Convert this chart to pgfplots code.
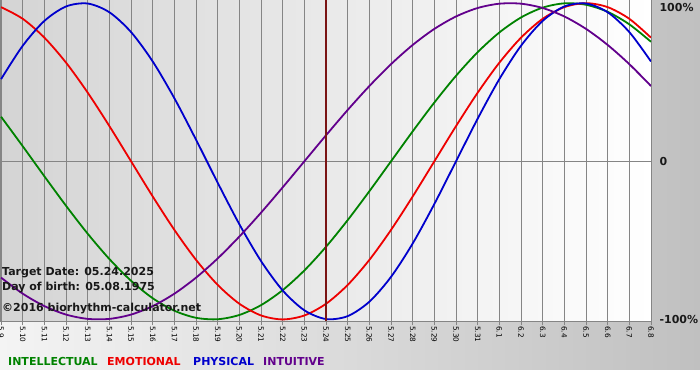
\documentclass[border=0pt]{standalone}
\usepackage{pgfplots}
\pgfplotsset{compat=1.18}
\usepackage{pgfplotstable}
\usepackage{fontspec}
\setmainfont{DejaVu Sans}
\definecolor{cint}{HTML}{008200}
\definecolor{cemo}{HTML}{EE0000}
\definecolor{cphy}{HTML}{0000CC}
\definecolor{cintu}{HTML}{62008C}
\definecolor{ctarget}{HTML}{7A1414}
\definecolor{cgrid}{HTML}{858585}
\definecolor{plotL}{HTML}{D4D4D4}
\definecolor{outL}{HTML}{F4F4F4}
\definecolor{outR}{HTML}{C0C0C0}
\pgfplotstableread{
i int emo phy intu
0 0.2817 0.9749 0.5196 -0.7357
1 0.0951 0.9010 0.7308 -0.8372
2 -0.0951 0.7818 0.8879 -0.9158
3 -0.2817 0.6235 0.9791 -0.9694
4 -0.4582 0.4339 0.9977 -0.9966
5 -0.6182 0.2225 0.9423 -0.9966
6 -0.7557 0 0.8170 -0.9694
7 -0.8660 -0.2225 0.6311 -0.9158
8 -0.9450 -0.4339 0.3984 -0.8372
9 -0.9898 -0.6235 0.1362 -0.7357
10 -0.9989 -0.7818 -0.1362 -0.6142
11 -0.9718 -0.9010 -0.3984 -0.4759
12 -0.9096 -0.9749 -0.6311 -0.3247
13 -0.8146 -1 -0.8170 -0.1646
14 -0.6901 -0.9749 -0.9423 0
15 -0.5406 -0.9010 -0.9977 0.1646
16 -0.3717 -0.7818 -0.9791 0.3247
17 -0.1893 -0.6235 -0.8879 0.4759
18 0 -0.4339 -0.7308 0.6142
19 0.1893 -0.2225 -0.5196 0.7357
20 0.3717 0 -0.2698 0.8372
21 0.5406 0.2225 0 0.9158
22 0.6901 0.4339 0.2698 0.9694
23 0.8146 0.6235 0.5196 0.9966
24 0.9096 0.7818 0.7308 0.9966
25 0.9718 0.9010 0.8879 0.9694
26 0.9989 0.9749 0.9791 0.9158
27 0.9898 1 0.9977 0.8372
28 0.9450 0.9749 0.9423 0.7357
29 0.8660 0.9010 0.8170 0.6142
30 0.7557 0.7818 0.6311 0.4759
}\bio
\begin{document}
\begin{tikzpicture}[x=1pt,y=1pt]
\shade[left color=outL, right color=outR] (0,10) rectangle (700,380);
\fill[white] (0,0) rectangle (700,10);
\begin{axis}[
  at={(0pt,59pt)}, anchor=south west,
  scale only axis, width=651pt, height=321pt,
  xmin=-0.05, xmax=30, ymin=-1.01, ymax=1.02,
  axis background/.style={left color=plotL, right color=white},
  axis line style={cgrid, line width=1pt},
  major tick length=4pt,
  xtick={0,...,30},
  xticklabels={5.9,5.10,5.11,5.12,5.13,5.14,5.15,5.16,5.17,5.18,5.19,5.20,5.21,5.22,5.23,5.24,5.25,5.26,5.27,5.28,5.29,5.30,5.31,6.1,6.2,6.3,6.4,6.5,6.6,6.7,6.8},
  xtick pos=bottom, tick align=outside,
  x tick style={cgrid, line width=1pt},
  xmajorgrids, grid style={cgrid, line width=1pt},
  xticklabel style={rotate=-90, anchor=west, font=\fontsize{7.3}{8}\selectfont, text=black, inner sep=1pt},
  ytick={-1,0,1}, yticklabels={-100\%,0,\raisebox{0pt}[\dimexpr\height+8pt\relax]{100\%}},
  yticklabel pos=right, ytick pos=right,
  y tick style={draw=none},
  yticklabel style={anchor=west, font=\bfseries\fontsize{11}{13}\selectfont, text=black!90, xshift=1pt},
  extra y ticks={0}, extra y tick labels={},
  extra y tick style={grid=major},
  /pgf/number format/assume math mode=true,
  clip=true,
]
\addplot[cint, line width=1.8pt, smooth] table[x=i, y=int] {\bio};
\addplot[cemo, line width=1.8pt, smooth] table[x=i, y=emo] {\bio};
\addplot[cphy, line width=1.8pt, smooth] table[x=i, y=phy] {\bio};
\addplot[cintu, line width=1.8pt, smooth] table[x=i, y=intu] {\bio};
\addplot[ctarget, line width=2pt] coordinates {(15,-1.01) (15,1.02)};
\end{axis}
\begin{scope}[every node/.style={anchor=base west, inner sep=0pt, font=\bfseries\fontsize{11}{13}\selectfont}]
\node[text=black!90] at (2,105) {Target Date: 05.24.2025};
\node[text=black!90] at (2,90) {Day of birth: 05.08.1975};
\node[text=black!90] at (2,69) {©2016 biorhythm-calculator.net};
\node[text=cint] at (8,15) {INTELLECTUAL};
\node[text=cemo] at (107,15) {EMOTIONAL};
\node[text=cphy] at (193,15) {PHYSICAL};
\node[text=cintu] at (263,15) {INTUITIVE};
\end{scope}
\pgfresetboundingbox
\useasboundingbox (0,0) rectangle (700,380);
\end{tikzpicture}
\end{document}
